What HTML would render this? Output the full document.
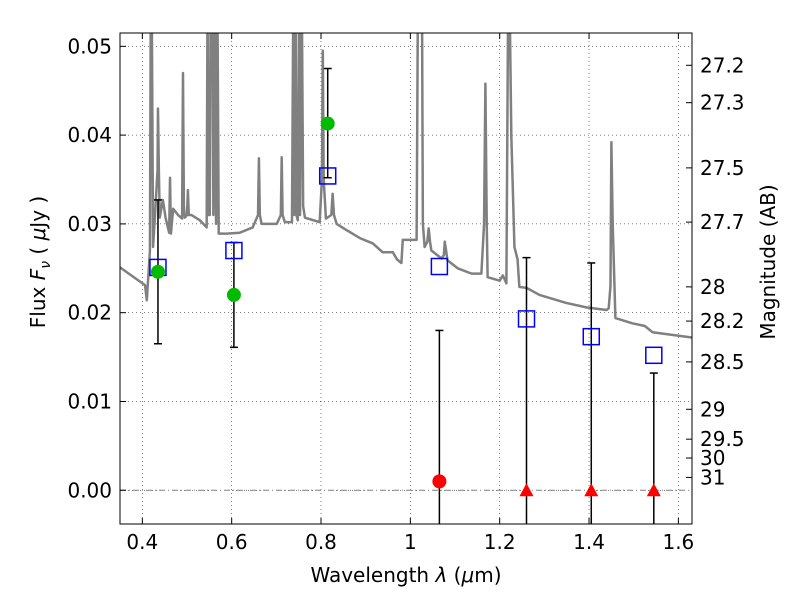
<!DOCTYPE html>
<html><head><meta charset="utf-8"><style>
body{margin:0;background:#fff}
svg text{font-family:"DejaVu Sans","Liberation Sans",sans-serif;fill:#000}
</style></head><body>
<svg id="chart" width="800" height="600" xmlns="http://www.w3.org/2000/svg"></svg>
<script>
const specWave=[0.35,0.406,0.410,0.417,0.419,0.421,0.424,0.428,0.434,0.435,0.437,0.439,0.446,0.452,0.460,0.462,0.464,0.469,0.480,0.489,0.491,0.493,0.495,0.500,0.502,0.504,0.510,0.529,0.544,0.546,0.548,0.551,0.553,0.557,0.559,0.563,0.565,0.568,0.571,0.589,0.618,0.647,0.659,0.661,0.663,0.667,0.701,0.710,0.712,0.714,0.719,0.735,0.738,0.740,0.743,0.745,0.748,0.751,0.753,0.757,0.760,0.764,0.797,0.802,0.804,0.806,0.811,0.823,0.826,0.829,0.835,0.857,0.887,0.916,0.938,0.961,0.970,0.980,0.983,1.014,1.017,1.020,1.026,1.028,1.032,1.038,1.041,1.044,1.047,1.070,1.075,1.077,1.080,1.083,1.106,1.137,1.159,1.165,1.168,1.171,1.173,1.200,1.207,1.215,1.219,1.222,1.226,1.233,1.240,1.244,1.260,1.289,1.349,1.394,1.439,1.444,1.448,1.450,1.453,1.459,1.497,1.525,1.542,1.630];
const specFlux=[0.0251,0.0231,0.0214,0.027,0.056,0.056,0.0274,0.0307,0.036,0.043,0.036,0.0307,0.0327,0.0307,0.029,0.0352,0.0289,0.0317,0.031,0.0306,0.047,0.032,0.0307,0.031,0.0338,0.031,0.031,0.0304,0.0296,0.056,0.031,0.031,0.056,0.056,0.031,0.056,0.03,0.056,0.0289,0.0289,0.029,0.0296,0.031,0.0374,0.031,0.030,0.030,0.031,0.0375,0.031,0.0302,0.0302,0.056,0.031,0.056,0.031,0.0304,0.056,0.031,0.056,0.032,0.0307,0.0302,0.035,0.0495,0.035,0.0306,0.031,0.0334,0.031,0.030,0.0293,0.0284,0.0278,0.0268,0.0268,0.026,0.0256,0.0282,0.0282,0.056,0.056,0.056,0.030,0.0274,0.028,0.0295,0.028,0.027,0.0261,0.0265,0.028,0.027,0.0259,0.025,0.0244,0.0244,0.030,0.0458,0.030,0.024,0.0236,0.0242,0.0233,0.056,0.056,0.040,0.0274,0.026,0.0229,0.0228,0.022,0.0211,0.0206,0.0203,0.0205,0.023,0.0392,0.030,0.0194,0.0188,0.0185,0.0178,0.0172];
const bandWave=[0.435,0.605,0.815,1.065,1.26,1.405,1.545];
const modelFlux=[0.0251,0.0270,0.0354,0.0252,0.0193,0.0173,0.0152];
const errLow=[0.0165,0.0161,0.0352,-0.005,-0.005,-0.005,-0.005];
const errHigh=[0.0327,0.0279,0.0475,0.018,0.0262,0.0256,0.0132];
const detWave=[0.435,0.605,0.815];
const detFlux=[0.0246,0.022,0.0413];
const lowWave=[1.065];
const lowFlux=[0.001];
const ulWave=[1.26,1.405,1.545];
const ulFlux=[0,0,0];
const xTicks=[0.4,0.6,0.8,1.0,1.2,1.4,1.6];
const xTickLabels=["0.4","0.6","0.8","1","1.2","1.4","1.6"];
const yTicks=[0,0.01,0.02,0.03,0.04,0.05];
const yTickLabels=["0.00","0.01","0.02","0.03","0.04","0.05"];
const magTicks=[27.2,27.3,27.5,27.7,28,28.2,28.5,29,29.5,30,31];
const magTickLabels=["27.2","27.3","27.5","27.7","28","28.2","28.5","29","29.5","30","31"];

const L=120,R=692,T=33,B=524;
const x0=0.35,x1=1.6305,y0=-0.0038,y1=0.0515;
const X=v=>L+(v-x0)/(x1-x0)*(R-L);
const Y=v=>B-(v-y0)/(y1-y0)*(B-T);
const svg=document.getElementById('chart');
const NS='http://www.w3.org/2000/svg';
function el(tag,attrs,parent){const e=document.createElementNS(NS,tag);for(const k in attrs)e.setAttribute(k,attrs[k]);(parent||svg).appendChild(e);return e;}
const defs=el('defs',{});const cp=el('clipPath',{id:'c'},defs);el('rect',{x:L,y:T,width:R-L,height:B-T},cp);
xTicks.forEach(t=>{const g=el('line',{x1:X(t),x2:X(t),y1:T,y2:B,stroke:'#000','stroke-width':0.5,'stroke-dasharray':'1,3'});

});
yTicks.forEach(t=>{const g=el('line',{x1:L,x2:R,y1:Y(t),y2:Y(t),stroke:'#000','stroke-width':0.5,'stroke-dasharray':'1,3'});

});
const plot=el('g',{'clip-path':'url(#c)'});


const zl=el('line',{x1:L,x2:R,y1:Y(0),y2:Y(0),stroke:'#808080','stroke-width':1,'stroke-dasharray':'6,3,1,3'},plot);


const sp=el('polyline',{points:specWave.map((w,i)=>X(w)+','+Y(specFlux[i])).join(' '),fill:'none',stroke:'#808080','stroke-width':2.5,'stroke-linejoin':'round'},plot);


bandWave.forEach((w,i)=>{const x=X(w);
const e=el('line',{x1:x,x2:x,y1:Y(errLow[i]),y2:Y(errHigh[i]),stroke:'#000','stroke-width':1.5},plot);


[errLow[i],errHigh[i]].forEach(v=>{const c=el('line',{x1:x-4,x2:x+4,y1:Y(v),y2:Y(v),stroke:'#000','stroke-width':1.5},plot);

});});
bandWave.forEach((w,i)=>{const s=el('rect',{x:X(w)-8,y:Y(modelFlux[i])-8,width:16,height:16,fill:'none',stroke:'#0000ff','stroke-width':1.5},plot);

});
detWave.forEach((w,i)=>{const c=el('circle',{cx:X(w),cy:Y(detFlux[i]),r:7,fill:'#00bb00',stroke:'none'},plot);

});
lowWave.forEach((w,i)=>{const c=el('circle',{cx:X(w),cy:Y(lowFlux[i]),r:7,fill:'#ff0000'},plot);

});
ulWave.forEach((w,i)=>{const x=X(w),y=Y(ulFlux[i]);const t=el('polygon',{points:`${x},${y-7} ${x-7},${y+6} ${x+7},${y+6}`,fill:'#ff0000'},plot);

});
const fr=el('rect',{x:L,y:T,width:R-L,height:B-T,fill:'none',stroke:'#000','stroke-width':1});


xTicks.forEach((t,i)=>{const x=X(t);el('line',{x1:x,x2:x,y1:B,y2:B-6,stroke:'#000'});el('line',{x1:x,x2:x,y1:T,y2:T+6,stroke:'#000'});
const lb=el('text',{x:x,y:B+25,'text-anchor':'middle','font-size':20});lb.textContent=xTickLabels[i];

});
yTicks.forEach((t,i)=>{const y=Y(t);el('line',{x1:L,x2:L+6,y1:y,y2:y,stroke:'#000'});
const lb=el('text',{x:L-8,y:y+7,'text-anchor':'end','font-size':20});lb.textContent=yTickLabels[i];

});
magTicks.forEach((m,i)=>{const y=Y(Math.pow(10,-(m-23.9)/2.5));el('line',{x1:R,x2:R-6,y1:y,y2:y,stroke:'#000'});
const lb=el('text',{x:R+8,y:y+7,'font-size':20});lb.textContent=magTickLabels[i];

});
</script>
<svg style="position:absolute;left:0;top:0" width="800" height="600" xmlns="http://www.w3.org/2000/svg">
<text x="406" y="582" text-anchor="middle" font-size="20" font-family="DejaVu Sans,sans-serif">Wavelength  <tspan font-style="italic">λ</tspan> (<tspan font-style="italic">μ</tspan>m)</text>
<text transform="translate(45,262) rotate(-90)" text-anchor="middle" font-size="20" font-family="DejaVu Sans,sans-serif">Flux  <tspan font-style="italic">F</tspan><tspan font-style="italic" font-size="14" dy="5">ν</tspan><tspan dy="-5">  ( </tspan><tspan font-style="italic">μ</tspan>Jy )</text>
<text transform="translate(775,262) rotate(-90)" text-anchor="middle" font-size="20" font-family="DejaVu Sans,sans-serif">Magnitude (AB)</text>
</svg>
</body></html>
